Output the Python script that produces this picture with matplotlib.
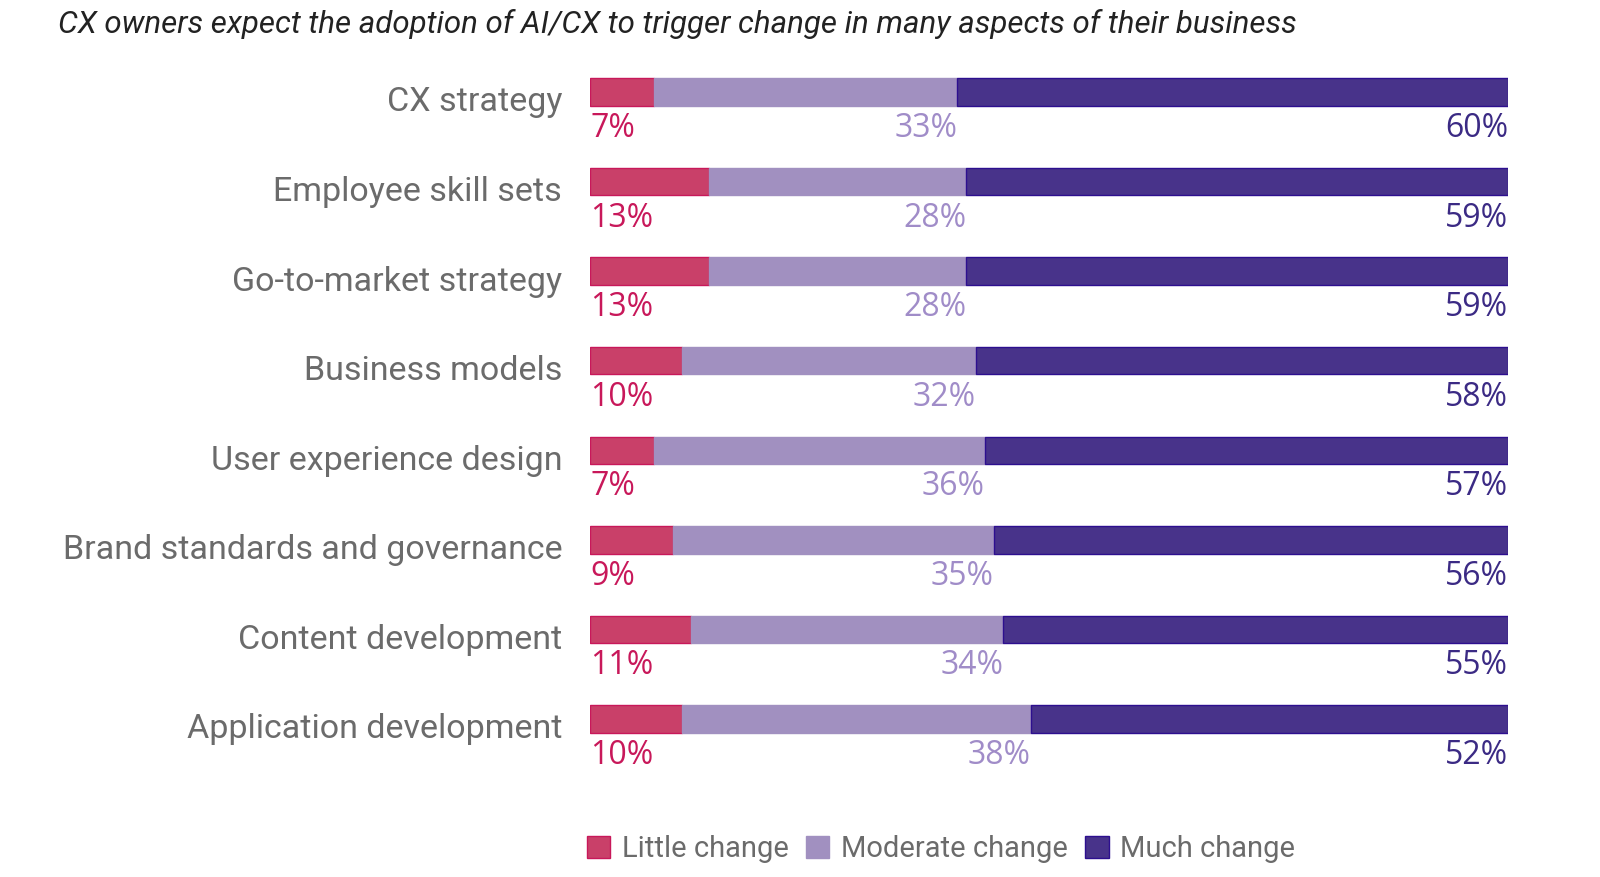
import matplotlib
matplotlib.use("Agg")
import matplotlib.pyplot as plt
from matplotlib.patches import Patch

categories = ["CX strategy", "Employee skill sets", "Go-to-market strategy",
              "Business models", "User experience design",
              "Brand standards and governance", "Content development",
              "Application development"]
little = [7, 13, 13, 10, 7, 9, 11, 10]
moderate = [33, 28, 28, 32, 36, 35, 34, 38]
much = [60, 59, 59, 58, 57, 56, 55, 52]
series_names = ["Little change", "Moderate change", "Much change"]
title = "CX owners expect the adoption of AI/CX to trigger change in many aspects of their business"

fills = ["#C94069", "#A190C0", "#48338A"]
edges = ["#C8185A", "#A190C0", "#2D0F8F"]
text_cols = ["#C8185A", "#A08CC8", "#3B2A84"]
label_col = "#6B6B6B"

plt.rcParams['font.family'] = ['Roboto', 'DejaVu Sans']
pct_font = ['Open Sans', 'DejaVu Sans']

W, H = 1600, 877
fig = plt.figure(figsize=(16, 8.77), dpi=100)

ax_left, ax_right = 590, 1508
top_c, bot_c = 92, 719
n = len(categories)
step = (bot_c - top_c) / (n - 1)
ax_top = top_c - step / 2
ax_bot = bot_c + step / 2
ax = fig.add_axes([ax_left / W, 1 - ax_bot / H, (ax_right - ax_left) / W, (ax_bot - ax_top) / H])
ax.set_xlim(0, 100)
ax.set_ylim(n - 0.5, -0.5)
ax.axis('off')

bh = 27.5 / step
ys = list(range(n))
lefts = [0] * n
for vals, fc, ec in zip([little, moderate, much], fills, edges):
    ax.barh(ys, vals, left=lefts, height=bh, color=fc, edgecolor=ec, linewidth=1)
    lefts = [a + b for a, b in zip(lefts, vals)]

off = -4.5
pfs = 23
for i, cat in enumerate(categories):
    ybot = i + bh / 2
    ax.annotate(f"{little[i]}%", (0, ybot), xytext=(0, off), textcoords='offset points',
                ha='left', va='top', fontsize=pfs, color=text_cols[0], family=pct_font)
    ax.annotate(f"{moderate[i]}%", (little[i] + moderate[i], ybot), xytext=(0, off),
                textcoords='offset points', ha='right', va='top', fontsize=pfs,
                color=text_cols[1], family=pct_font)
    ax.annotate(f"{much[i]}%", (100, ybot), xytext=(0, off), textcoords='offset points',
                ha='right', va='top', fontsize=pfs, color=text_cols[2], family=pct_font)
    ax.annotate(cat, (0, i), xytext=(-20, -7.5), textcoords='offset points',
                ha='right', va='center', fontsize=24.5, color=label_col)

fig.text(58 / W, 1 - 24 / H, title, ha='left', va='center', fontsize=22.5,
         style='italic', color='#222222')

handles = [Patch(facecolor=fc, edgecolor=ec, label=nm) for fc, ec, nm in zip(fills, edges, series_names)]
leg = fig.legend(handles=handles, loc='center', bbox_to_anchor=(941 / W, 1 - 849 / H), ncol=3,
                 frameon=False, fontsize=21, handlelength=0.8, handleheight=0.8,
                 handletextpad=0.4, columnspacing=0.6)
for t in leg.get_texts():
    t.set_color(label_col)

fig.savefig("out.png", dpi=100)
